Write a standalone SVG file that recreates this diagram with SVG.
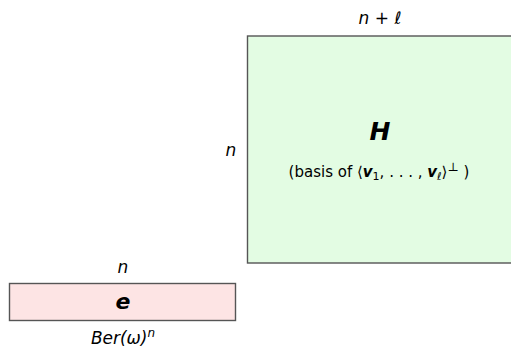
<svg xmlns="http://www.w3.org/2000/svg" width="511" height="353" viewBox="0 0 511 353">
<style>
text{font-family:"DejaVu Sans","Liberation Sans",sans-serif;fill:#000;text-anchor:middle}
.m{font-style:italic;font-size:17px}
.b{font-style:italic;font-weight:bold}
.s{font-size:15px}
.box{stroke:#555;stroke-width:1.4}
</style>
<rect width="511" height="353" fill="#fff"/>
<g id="H">
<rect class="box" x="247.5" y="36" width="270" height="227" fill="#e3fce3"/>
<text class="b" x="380" y="140" font-size="25">H</text>
<text class="s" x="379" y="177">(basis of ⟨<tspan class="b">v</tspan><tspan font-size="11" dy="3">1</tspan><tspan dy="-3">, . . . , </tspan><tspan class="b">v</tspan><tspan font-size="11" font-style="italic" dy="3">ℓ</tspan><tspan dy="-3">⟩</tspan><tspan font-size="12" dy="-6" font-family="DejaVu Serif" fill="#000">⊥</tspan><tspan dy="6"> )</tspan></text>
<text class="m" x="380" y="24">n + ℓ</text>
<text class="m" x="231" y="156">n</text>
</g>
<g id="e">
<rect class="box" x="9.5" y="283.5" width="226" height="37" fill="#fde4e4"/>
<text class="b" x="123" y="309" font-size="22">e</text>
<text class="m" x="123" y="273">n</text>
<text class="m" x="123" y="344" font-size="19">Ber(ω)<tspan font-size="12" dy="-7">n</tspan></text>
</g>
<g id="connectors"/>
</svg>
